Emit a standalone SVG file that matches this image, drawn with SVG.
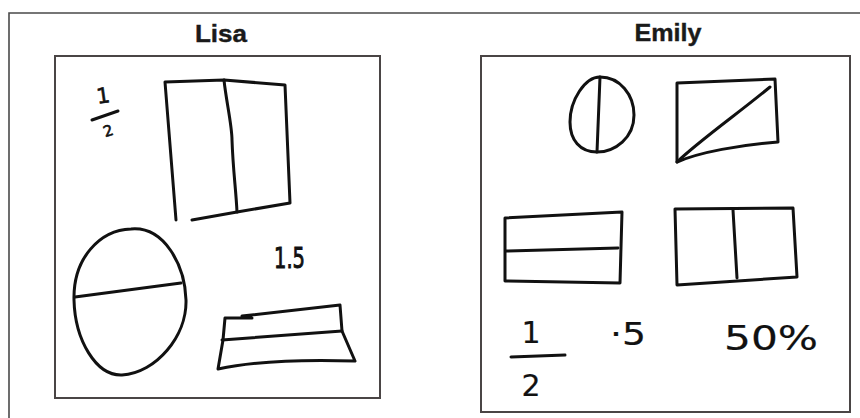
<svg xmlns="http://www.w3.org/2000/svg" width="860" height="418" viewBox="0 0 860 418">
<style>
.frame{fill:none;stroke:#4a4a4a;stroke-width:1.6}
.box{fill:#fff;stroke:#4a4545;stroke-width:2}
.ink{fill:none;stroke:#111;stroke-width:3;stroke-linecap:round;stroke-linejoin:round}
.title{font-family:"Liberation Sans",Arial,sans-serif;font-weight:bold;font-size:24px;fill:#1a1a1a;stroke:#1a1a1a;stroke-width:0.4;text-anchor:middle}
.hand{font-family:"DejaVu Sans","Liberation Sans",sans-serif;fill:#111;stroke:#111;stroke-width:0.6}
</style>
<rect width="860" height="418" fill="#fff"/>
<path class="frame" d="M9,418 V13 H860"/>

<g id="lisa">
  <text class="title" x="221" y="42" textLength="52" lengthAdjust="spacingAndGlyphs">Lisa</text>
  <rect class="box" x="55" y="56" width="325" height="342"/>
  <g id="lisa-half">
    <text class="hand" x="103" y="103" font-size="21" text-anchor="middle" transform="rotate(-8 103 95)">1</text>
    <path class="ink" d="M92,120 L118,111"/>
    <text class="hand" x="108" y="136" font-size="15" text-anchor="middle" transform="rotate(-18 108 130)">2</text>
  </g>
  <g id="lisa-rect">
    <path class="ink" d="M176,220 L165,82 L224,80 L285,85 L290,203 L237,212 L192,220"/>
    <path class="ink" d="M224,80 C226,100 232,125 232,140 C233,170 236,190 237,212"/>
  </g>
  <g id="lisa-oval">
    <path class="ink" d="M131,229 C164,226 185,265 186,300 C187,336 156,373 122,375 C96,376 75,340 74,300 C73,258 100,230 131,229 Z"/>
    <path class="ink" d="M75,297 L181,283"/>
  </g>
  <text class="hand" x="274" y="268" font-size="29" textLength="31" lengthAdjust="spacingAndGlyphs" style="stroke-width:1">1.5</text>
  <g id="lisa-trap">
    <path class="ink" d="M242,316 L340,305 L342,331 L355,361 C310,360 260,360 218,369 L223,340 L225,318 L252,318"/>
    <path class="ink" d="M222,340 L342,331"/>
  </g>
</g>

<g id="emily">
  <text class="title" x="668" y="41" textLength="67" lengthAdjust="spacingAndGlyphs">Emily</text>
  <rect class="box" x="481" y="56" width="369" height="356"/>
  <g id="emily-circle">
    <path class="ink" d="M600,77 C620,77 634,95 634,115 C634,138 615,152 597,152 C580,152 570,140 570,122 C570,100 585,77 600,77 Z"/>
    <path class="ink" d="M600,77 L597,152"/>
  </g>
  <g id="emily-diag">
    <path class="ink" d="M677,162 L677,83 L775,79 L778,142 C740,145 700,152 677,162 Z"/>
    <path class="ink" d="M677,162 C700,140 740,112 770,87"/>
  </g>
  <g id="emily-hrect">
    <path class="ink" d="M505,218 L622,212 L620,283 L505,281 Z"/>
    <path class="ink" d="M506,251 L618,248"/>
  </g>
  <g id="emily-vrect">
    <path class="ink" d="M675,209 L793,208 L797,277 L677,285 Z"/>
    <path class="ink" d="M733,210 L737,278"/>
  </g>
  <g id="emily-half">
    <text class="hand" x="531" y="343" font-size="30" text-anchor="middle" style="stroke-width:0.2">1</text>
    <path class="ink" d="M511,357 L565,355"/>
    <text class="hand" x="531" y="396" font-size="30" text-anchor="middle" style="stroke-width:0.2">2</text>
  </g>
  <text class="hand" x="610" y="345" font-size="32" textLength="36" lengthAdjust="spacingAndGlyphs" style="stroke-width:0.2">·5</text>
  <text class="hand" x="724" y="350" font-size="34" textLength="94" lengthAdjust="spacingAndGlyphs" style="stroke-width:0.2">50%</text>
</g>
</svg>
